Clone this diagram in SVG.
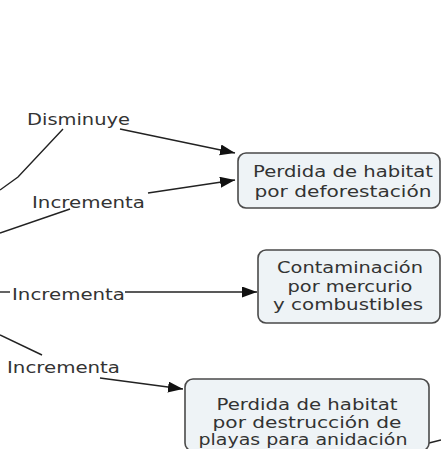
<svg xmlns="http://www.w3.org/2000/svg" width="441" height="449" viewBox="0 0 441 449">
<style>
.lbl{font-family:"DejaVu Sans",Verdana,sans-serif;font-size:16.5px;fill:#333;}
.nt{font-family:"DejaVu Sans",Verdana,sans-serif;font-size:15px;fill:#333;text-anchor:middle;}
.box{fill:#eef3f6;stroke:#4a4a4a;stroke-width:1.6;}
.ln{fill:none;stroke:#222;stroke-width:1.4;}
</style>
<defs>
<marker id="ah" markerUnits="userSpaceOnUse" markerWidth="16" markerHeight="12" refX="15" refY="5.5" orient="auto">
<path d="M0,0 L15,5.5 L0,11 z" fill="#111"/>
</marker>
</defs>
<g id="connectors">
<polyline class="ln" points="63,129 18,177 0,190"/>
<line class="ln" x1="120" y1="129" x2="235" y2="153" marker-end="url(#ah)"/>
<line class="ln" x1="70" y1="209" x2="0" y2="233"/>
<line class="ln" x1="148" y1="193" x2="235" y2="180" marker-end="url(#ah)"/>
<line class="ln" x1="0" y1="292" x2="10" y2="292"/>
<line class="ln" x1="125" y1="292" x2="257" y2="292" marker-end="url(#ah)"/>
<line class="ln" x1="0" y1="335" x2="42" y2="355"/>
<line class="ln" x1="100" y1="378" x2="183" y2="389" marker-end="url(#ah)"/>
<line class="ln" x1="429" y1="443" x2="441" y2="440"/>
<text class="lbl" x="27" y="125" textLength="103" lengthAdjust="spacingAndGlyphs">Disminuye</text>
<text class="lbl" x="32" y="208" textLength="113" lengthAdjust="spacingAndGlyphs">Incrementa</text>
<text class="lbl" x="12" y="300" textLength="113" lengthAdjust="spacingAndGlyphs">Incrementa</text>
<text class="lbl" x="7" y="373" textLength="113" lengthAdjust="spacingAndGlyphs">Incrementa</text>
</g>
<g id="node-deforestacion">
<rect class="box" x="238" y="153" width="202" height="55" rx="8"/>
<text class="nt" x="343" y="177" textLength="180" lengthAdjust="spacingAndGlyphs">Perdida de habitat</text>
<text class="nt" x="343" y="197" textLength="177" lengthAdjust="spacingAndGlyphs">por deforestación</text>
</g>
<g id="node-contaminacion">
<rect class="box" x="258" y="250" width="182" height="73" rx="8"/>
<text class="nt" x="350" y="273" textLength="146" lengthAdjust="spacingAndGlyphs">Contaminación</text>
<text class="nt" x="350" y="291.5" textLength="125" lengthAdjust="spacingAndGlyphs">por mercurio</text>
<text class="nt" x="348" y="310" textLength="150" lengthAdjust="spacingAndGlyphs">y combustibles</text>
</g>
<g id="node-playas">
<rect class="box" x="185" y="379" width="244" height="72" rx="8"/>
<text class="nt" x="307" y="410" textLength="181" lengthAdjust="spacingAndGlyphs">Perdida de habitat</text>
<text class="nt" x="307" y="427.5" textLength="189" lengthAdjust="spacingAndGlyphs">por destrucción de</text>
<text class="nt" x="303" y="445" textLength="209" lengthAdjust="spacingAndGlyphs">playas para anidación</text>
</g>
</svg>
